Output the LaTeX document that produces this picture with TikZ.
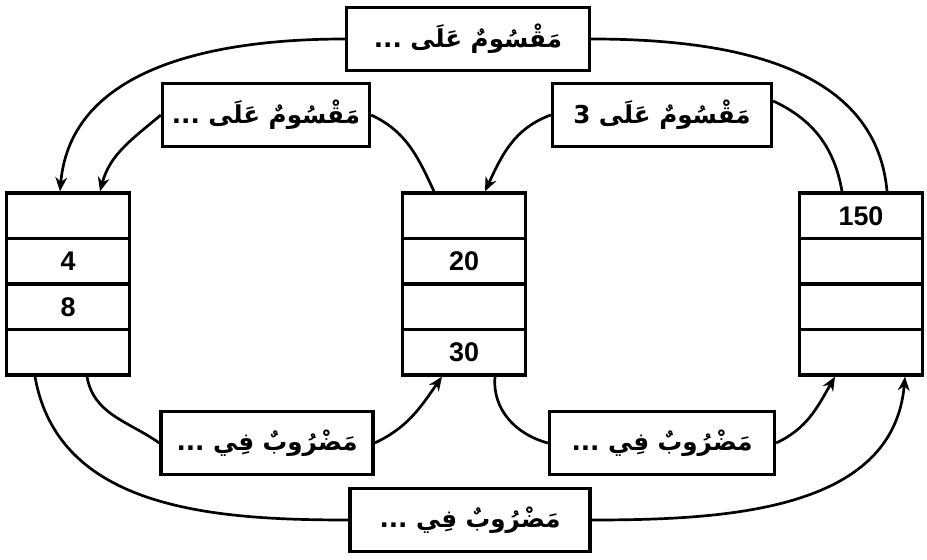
\documentclass[tikz,border=0pt]{standalone}
\usepackage{fontspec}
\setmainfont{Liberation Sans}
\newfontfamily\arabicfont[Script=Arabic]{DejaVu Sans}
\TeXXeTstate=1
\usetikzlibrary{calc}
\usetikzlibrary{arrows.meta}

\begin{document}
\begin{tikzpicture}[x=0.03cm, y=0.03cm,
  cell/.style={draw, line width=2.8pt, minimum width=3.69cm, minimum height=1.365cm,
    inner sep=0pt, font=\fontsize{23}{27}\selectfont\bfseries},
  lbl/.style={draw, line width=2.8pt, minimum height=1.89cm, inner sep=0pt,
    font=\arabicfont\fontsize{21}{25}\selectfont\bfseries},
  flow/.style={line width=2.3pt},
  flowarr/.style={line width=2.3pt, -{Stealth[length=12pt,width=10pt]}}]

\useasboundingbox (0,0) rectangle (927,559);

%---------------------------------------
% Columns of cells
%---------------------------------------
\foreach \n/\t in {1/{},2/4,3/8,4/{}}
  \node[cell] (L\n) at (68,{388.75-45.5*\n}) {\t};
\foreach \n/\t in {1/{},2/20,3/{},4/30}
  \node[cell] (M\n) at (464,{388.75-45.5*\n}) {\t};
\foreach \n/\t in {1/150,2/{},3/{},4/{}}
  \node[cell] (R\n) at (861,{388.75-45.5*\n}) {\t};

%---------------------------------------
% Label boxes
%---------------------------------------
\node[lbl, minimum width=7.29cm] (top) at (468,520) {\beginR مَقْسُومٌ عَلَى ...\endR};
\node[lbl, minimum width=6.21cm] (divL) at (266,444) {\beginR مَقْسُومٌ عَلَى ...\endR};
\node[lbl, minimum width=6.57cm] (divR) at (662,444) {\beginR مَقْسُومٌ عَلَى 3\endR};
\node[lbl, minimum width=6.36cm] (mulL) at (267,116) {\beginR مَضْرُوبٌ فِي ...\endR};
\node[lbl, minimum width=6.75cm] (mulR) at (662,116) {\beginR مَضْرُوبٌ فِي ...\endR};
\node[lbl, minimum width=7.2cm] (bot) at (470,39) {\beginR مَضْرُوبٌ فِي ...\endR};

% ---- outer loop, top ----
\draw[flow] ($(R1.north)+(26,0)$) to[out=95, in=0] (top.east);
\draw[flowarr] (top.west) to[out=180, in=85] ($(L1.north)+(-8,0)$);

% ---- inner loops, top ----
\draw[flow] ($(M1.north)+(-30,0)$) to[out=115, in=-25] (divL.east);
\draw[flowarr] (divL.west) to[out=220, in=75] ($(L1.north)+(32,0)$);

\draw[flow] ($(R1.north)+(-19,0)$) to[out=100, in=-25] ($(divR.east)+(0,14)$);
\draw[flowarr] (divR.west) to[out=200, in=65] ($(M1.north)+(21,0)$);

% ---- inner loops, bottom ----
\draw[flow] ($(L4.south)+(19,0)$) to[out=-80, in=145] (mulL.west);
\draw[flowarr] (mulL.east) to[out=25, in=-125] ($(M4.south)+(-22,0)$);

\draw[flow] ($(M4.south)+(31,0)$) to[out=-95, in=165] (mulR.west);
\draw[flowarr] (mulR.east) to[out=25, in=-120] ($(R4.south)+(-26,0)$);

% ---- outer loop, bottom ----
\draw[flow] ($(L4.south)+(-33,0)$) to[out=-80, in=180] (bot.west);
\draw[flowarr] (bot.east) to[out=0, in=-95] ($(R4.south)+(44,0)$);

\end{tikzpicture}
\end{document}
